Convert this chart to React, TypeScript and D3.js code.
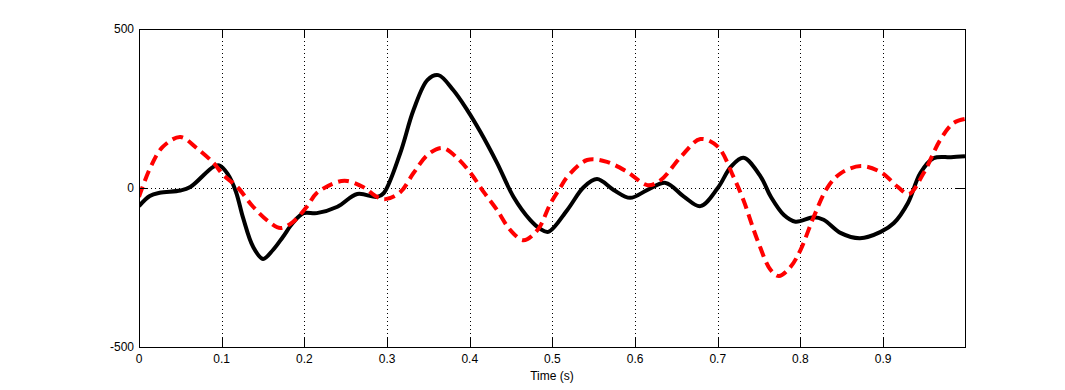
import { useEffect, useRef } from 'react';
import * as d3 from 'd3';

// black trace (time s, value)
const blackT = [0, 0.013, 0.025, 0.05, 0.062, 0.09, 0.097, 0.107, 0.117, 0.126, 0.138, 0.15, 0.162, 0.174, 0.186, 0.199, 0.215, 0.24, 0.264, 0.288, 0.296, 0.316, 0.332, 0.349, 0.362, 0.38, 0.397, 0.413, 0.433, 0.453, 0.473, 0.485, 0.495, 0.518, 0.538, 0.554, 0.574, 0.594, 0.615, 0.637, 0.659, 0.679, 0.7, 0.716, 0.731, 0.752, 0.764, 0.78, 0.794, 0.816, 0.828, 0.849, 0.872, 0.897, 0.913, 0.93, 0.945, 0.961, 0.982, 0.999];
const blackV = [-57, -25, -15, -8, 3, 67, 71, 45, -10, -95, -185, -223, -195, -154, -110, -79, -79, -59, -19, -28, -16, 110, 245, 340, 355, 308, 245, 176, 79, -28, -100, -128, -138, -69, 3, 28, -6, -31, -6, 16, -27, -57, 0, 67, 95, 35, -27, -85, -106, -92, -100, -142, -158, -138, -110, -47, 47, 94, 97, 100];

// red dashed trace
const redT = [0, 0.014, 0.029, 0.05, 0.07, 0.09, 0.102, 0.119, 0.138, 0.159, 0.171, 0.186, 0.203, 0.215, 0.24, 0.252, 0.271, 0.288, 0.298, 0.316, 0.332, 0.349, 0.367, 0.385, 0.401, 0.417, 0.433, 0.449, 0.465, 0.482, 0.498, 0.51, 0.518, 0.542, 0.566, 0.591, 0.615, 0.631, 0.655, 0.679, 0.7, 0.719, 0.731, 0.748, 0.764, 0.774, 0.788, 0.8, 0.816, 0.833, 0.849, 0.873, 0.897, 0.918, 0.931, 0.949, 0.969, 0.985, 0.999];
const redV = [-28, 66, 130, 160, 125, 79, 41, 3, -59, -110, -126, -107, -59, -16, 19, 22, 3, -28, -35, -13, 47, 104, 126, 94, 47, -13, -69, -132, -164, -132, -47, 3, 35, 88, 82, 50, 9, 25, 97, 154, 130, 35, -38, -164, -258, -277, -248, -195, -91, 3, 47, 69, 50, 3, -19, 47, 151, 204, 217];

const xTicks = [0, 0.1, 0.2, 0.3, 0.4, 0.5, 0.6, 0.7, 0.8, 0.9];
const yTicks = [-500, 0, 500];

export default function App() {
  const svgRef = useRef<SVGSVGElement>(null);

  useEffect(() => {
    const svg = d3.select(svgRef.current);
    svg.selectAll('*').remove();
    const width = 1065;
    const height = 390;
    const margin = { top: 29, right: 100, bottom: 43, left: 139 };
    const font = 'Arial, "Liberation Sans", Helvetica, sans-serif';

    const x = d3.scaleLinear().domain([0, 0.999]).range([margin.left, width - margin.right]);
    const y = d3.scaleLinear().domain([-500, 500]).range([height - margin.bottom, margin.top]);

    svg.append('rect').attr('width', width).attr('height', height).attr('fill', '#fff');

    // grid
    const grid = svg.append('g').attr('stroke', '#000').attr('stroke-width', 1).attr('stroke-dasharray', '1,3');
    xTicks.slice(1).forEach((t) => {
      grid.append('line')
        .attr('x1', Math.round(x(t)) + 0.5).attr('x2', Math.round(x(t)) + 0.5)
        .attr('y1', y(500)).attr('y2', y(-500));
    });
    grid.append('line')
      .attr('x1', x(0)).attr('x2', x(0.999))
      .attr('y1', Math.round(y(0)) + 0.5).attr('y2', Math.round(y(0)) + 0.5);

    const line = (ts: number[], vs: number[]) =>
      d3.line<number>()
        .x((_, i) => x(ts[i]))
        .y((v) => y(v))
        .curve(d3.curveCatmullRom.alpha(0.5))(vs);

    const clip = svg.append('defs').append('clipPath').attr('id', 'clip');
    clip.append('rect').attr('x', x(0)).attr('y', y(500)).attr('width', x(0.999) - x(0)).attr('height', y(-500) - y(500));

    const plot = svg.append('g').attr('clip-path', 'url(#clip)');
    plot.append('path')
      .attr('d', line(blackT, blackV))
      .attr('fill', 'none').attr('stroke', '#000').attr('stroke-width', 4)
      .attr('stroke-linejoin', 'round');
    plot.append('path')
      .attr('d', line(redT, redV))
      .attr('fill', 'none').attr('stroke', '#ff0000').attr('stroke-width', 4)
      .attr('stroke-dasharray', '11,6');

    // axes box
    const ax = svg.append('g').attr('stroke', '#000').attr('stroke-width', 1).attr('fill', 'none');
    ax.append('rect')
      .attr('x', Math.round(x(0)) + 0.5).attr('y', Math.round(y(500)) + 0.5)
      .attr('width', Math.round(x(0.999)) - Math.round(x(0)))
      .attr('height', Math.round(y(-500)) - Math.round(y(500)));

    const tickLen = 9;
    xTicks.forEach((t) => {
      const px = Math.round(x(t)) + 0.5;
      ax.append('line').attr('x1', px).attr('x2', px).attr('y1', y(-500)).attr('y2', y(-500) - tickLen);
      ax.append('line').attr('x1', px).attr('x2', px).attr('y1', y(500)).attr('y2', y(500) + tickLen);
    });
    yTicks.forEach((v) => {
      const py = Math.round(y(v)) + 0.5;
      ax.append('line').attr('x1', x(0)).attr('x2', x(0) + tickLen).attr('y1', py).attr('y2', py);
      ax.append('line').attr('x1', x(0.999)).attr('x2', x(0.999) - tickLen).attr('y1', py).attr('y2', py);
    });

    const labels = svg.append('g').attr('font-family', font).attr('font-size', 12).attr('fill', '#000');
    xTicks.forEach((t) => {
      labels.append('text')
        .attr('x', x(t)).attr('y', y(-500) + 16)
        .attr('text-anchor', 'middle')
        .text(d3.format('')(t));
    });
    yTicks.forEach((v) => {
      labels.append('text')
        .attr('x', x(0) - 5).attr('y', y(v)).attr('dy', '0.35em')
        .attr('text-anchor', 'end')
        .text(String(v));
    });
    labels.append('text')
      .attr('x', (x(0) + x(0.999)) / 2).attr('y', y(-500) + 33)
      .attr('text-anchor', 'middle')
      .text('Time (s)');
  }, []);

  return (
    <div style={{ position: 'absolute', left: 0, top: 0 }}>
      <svg ref={svgRef} width={1065} height={390} style={{ display: 'block' }} />
    </div>
  );
}
